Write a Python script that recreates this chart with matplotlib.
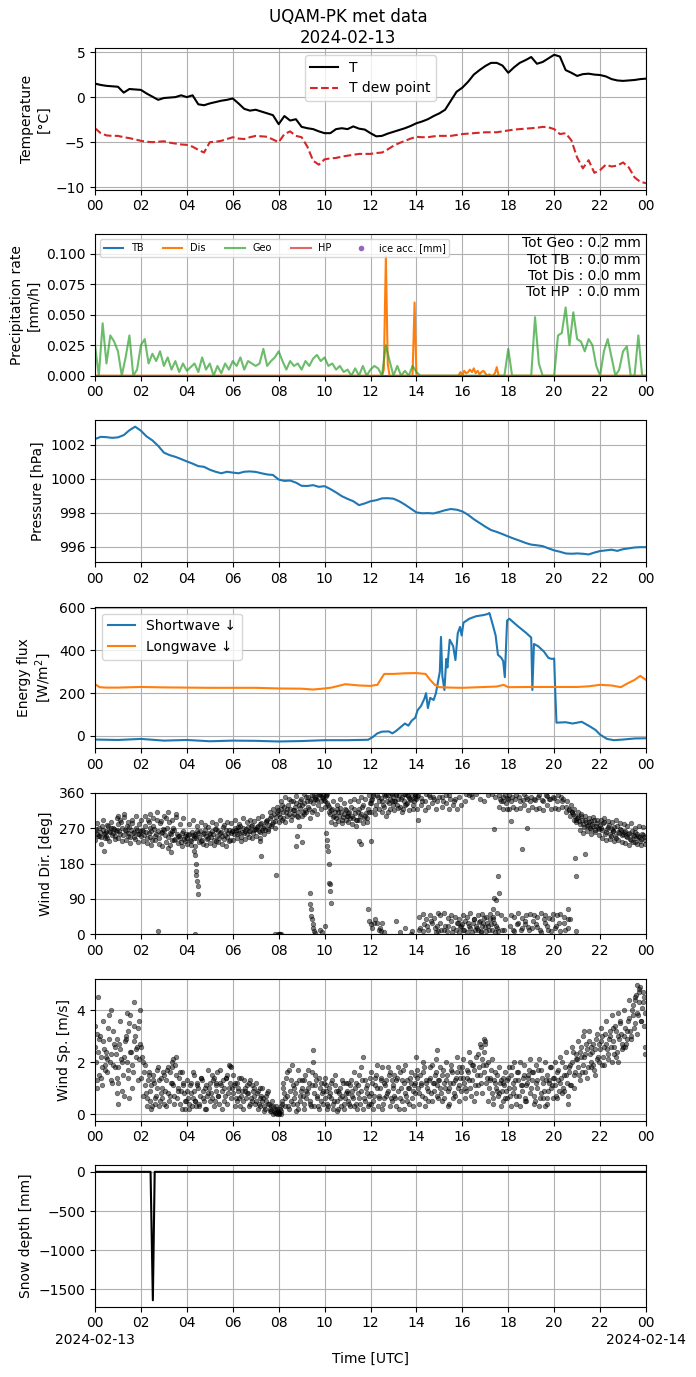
import numpy as np
import matplotlib
matplotlib.use("Agg")
import matplotlib.pyplot as plt

# 15 min grid for the slow series
hours_15 = np.arange(97) * 0.25

temp = [1.5, 1.35, 1.25, 1.2, 1.15, 0.5, 0.9, 0.85,
        0.8, 0.4, 0.05, -0.3, -0.1, -0.05, 0.0, 0.2,
        0.0, 0.2, -0.8, -0.9, -0.7, -0.55, -0.4, -0.3,
        -0.15, -0.7, -1.3, -1.5, -1.4, -1.6, -1.8, -2.0,
        -3.0, -2.1, -2.6, -2.45, -3.3, -3.45, -3.55, -3.8,
        -4.0, -4.0, -3.55, -3.45, -3.55, -3.25, -3.5, -3.6,
        -4.0, -4.35, -4.3, -4.05, -3.85, -3.65, -3.45, -3.2,
        -2.9, -2.7, -2.45, -2.1, -1.8, -1.4, -0.4, 0.6,
        1.05, 1.7, 2.5, 3.0, 3.45, 3.8, 3.8, 3.5,
        2.7, 3.3, 3.8, 4.1, 4.45, 3.7, 3.9, 4.3,
        4.7, 4.5, 3.0, 2.7, 2.35, 2.55, 2.6, 2.5,
        2.45, 2.3, 2.0, 1.85, 1.8, 1.85, 1.9, 2.0,
        2.05]

dew = [-3.45, -4.0, -4.25, -4.3, -4.3, -4.45, -4.55, -4.7,
       -4.85, -4.95, -5.0, -4.95, -4.9, -5.05, -5.15, -5.25,
       -5.3, -5.5, -5.85, -6.15, -5.0, -4.95, -4.85, -4.65,
       -4.45, -4.6, -4.65, -4.45, -4.3, -4.35, -4.4, -4.7,
       -5.0, -4.1, -3.8, -4.3, -4.45, -5.5, -7.05, -7.5,
       -6.9, -6.8, -6.75, -6.6, -6.5, -6.4, -6.3, -6.3,
       -6.3, -6.2, -6.15, -5.8, -5.4, -5.1, -4.85, -4.6,
       -4.4, -4.45, -4.45, -4.35, -4.3, -4.3, -4.3, -4.2,
       -4.1, -4.05, -4.0, -3.95, -3.9, -3.9, -3.9, -3.8,
       -3.7, -3.6, -3.55, -3.5, -3.45, -3.4, -3.3, -3.35,
       -3.55, -4.1, -4.0, -4.8, -6.7, -7.9, -7.0, -8.4,
       -8.1, -7.5, -7.7, -7.6, -7.25, -7.8, -8.9, -9.4,
       -9.55]

pres = [1002.35, 1002.48, 1002.46, 1002.42, 1002.45, 1002.58, 1002.87, 1003.08,
        1002.84, 1002.50, 1002.27, 1001.95, 1001.55, 1001.40, 1001.30, 1001.17,
        1001.03, 1000.90, 1000.75, 1000.71, 1000.54, 1000.42, 1000.33, 1000.42,
        1000.37, 1000.33, 1000.42, 1000.44, 1000.41, 1000.33, 1000.26, 1000.23,
        999.96, 999.88, 999.90, 999.78, 999.59, 999.58, 999.63, 999.53,
        999.57, 999.40, 999.20, 998.98, 998.82, 998.68, 998.45, 998.55,
        998.68, 998.74, 998.85, 998.86, 998.83, 998.68, 998.48, 998.25,
        998.02, 997.97, 997.98, 997.96, 998.05, 998.15, 998.22, 998.18,
        998.08, 997.88, 997.62, 997.40, 997.18, 996.98, 996.87, 996.74,
        996.60, 996.47, 996.35, 996.22, 996.12, 996.08, 996.03, 995.90,
        995.78, 995.70, 995.60, 995.58, 995.60, 995.58, 995.54, 995.65,
        995.74, 995.78, 995.82, 995.75, 995.85, 995.90, 995.95, 995.97,
        995.97]

# precipitation, 10 min for Geo
hours_10 = np.arange(145) / 6.0
geo = [0.025, 0.0, 0.043, 0.01, 0.033, 0.028,
       0.02, 0.0, 0.015, 0.033, 0.0, 0.005,
       0.025, 0.03, 0.01, 0.018, 0.012, 0.02,
       0.008, 0.015, 0.005, 0.012, 0.003, 0.01,
       0.004, 0.007, 0.01, 0.003, 0.015, 0.005,
       0.01, 0.0, 0.008, 0.002, 0.01, 0.005,
       0.012, 0.008, 0.015, 0.005, 0.012, 0.01,
       0.008, 0.01, 0.022, 0.008, 0.012, 0.015,
       0.02, 0.012, 0.005, 0.012, 0.008, 0.01,
       0.005, 0.012, 0.008, 0.014, 0.017, 0.012,
       0.015, 0.008, 0.01, 0.005, 0.008, 0.003,
       0.005, 0.0, 0.006, 0.0, 0.008, 0.0,
       0.005, 0.008, 0.006, 0.0, 0.025, 0.012,
       0.0, 0.008, 0.0, 0.004, 0.0, 0.008,
       0.003, 0.0, 0.0, 0.0, 0.0, 0.0,
       0.0, 0.0, 0.0, 0.0, 0.0, 0.0,
       0.0, 0.0, 0.0, 0.0, 0.0, 0.0,
       0.0, 0.0, 0.0, 0.0, 0.0, 0.0,
       0.022, 0.0, 0.0, 0.0, 0.0, 0.0,
       0.0, 0.048, 0.01, 0.0, 0.0, 0.0,
       0.0, 0.033, 0.035, 0.056, 0.025, 0.052,
       0.03, 0.028, 0.02, 0.03, 0.025, 0.008,
       0.0, 0.02, 0.03, 0.015, 0.0, 0.005,
       0.02, 0.024, 0.0, 0.0, 0.033, 0.0,
       0.0]

dis_hours = [0, 12.5, 12.58, 12.67, 12.75, 12.83, 13.83, 13.92, 14.0,
             15.83, 15.92, 16.0, 16.08, 16.17, 16.25, 16.33, 16.42, 16.5,
             16.58, 16.67, 16.75, 16.83, 16.92, 17.0, 17.08, 17.17, 17.25,
             17.33, 17.42, 17.5, 17.58, 24]
dis_rate = [0, 0, 0.005, 0.098, 0.01, 0, 0, 0.06, 0,
            0, 0.003, 0, 0.004, 0.002, 0.003, 0.005, 0.003, 0.006,
            0.002, 0.004, 0.001, 0.003, 0.004, 0.002, 0, 0.001, 0,
            0, 0.002, 0.007, 0, 0]
tb_rate = [0, 0]
hp_rate = [0, 0]
day_ends = [0, 24]

# radiation
sw_hours = [0, 1, 2, 3, 4, 5, 6, 7, 8, 9, 10, 11, 11.9, 12.1, 12.3, 12.5,
            12.8, 12.95, 13.1, 13.3, 13.5, 13.65, 13.8, 13.95, 14.05, 14.2,
            14.35, 14.42, 14.5, 14.6, 14.75, 14.85, 14.95, 15.02, 15.07,
            15.13, 15.22, 15.3, 15.35, 15.45, 15.6, 15.7, 15.8, 15.9, 15.97,
            16.05, 16.3, 16.6, 16.9, 17.1, 17.18, 17.3, 17.45, 17.55, 17.7,
            17.78, 17.85, 17.95, 18.05, 18.4, 18.8, 19.0, 19.05, 19.12, 19.3,
            19.55, 19.75, 19.9, 20.0, 20.05, 20.1, 20.5, 20.8, 21.2, 21.5,
            21.8, 22.0, 22.3, 22.6, 23.0, 23.5, 24.0]
sw_flux = [-17, -19, -14, -22, -19, -25, -22, -23, -26, -24, -20, -20, -18, -5, 12, 20,
           21, 12, 22, 40, 58, 48, 72, 85, 120, 140,
           175, 200, 130, 178, 168, 200, 260, 300, 463,
           280, 215, 360, 320, 450, 420, 355, 480, 510, 470,
           530, 548, 560, 565, 570, 575, 530, 470, 380, 365,
           350, 275, 540, 548, 515, 480, 460, 215, 430, 420,
           395, 365, 360, 362, 200, 62, 64, 58, 66, 48,
           28, 6, -14, -20, -17, -12, -11]

lw_hours = [0, 0.2, 0.5, 1, 2, 3, 4, 5, 6, 7, 8, 9, 9.5, 10, 10.3, 10.6,
            10.9, 11.2, 11.5, 12.0, 12.3, 12.5, 12.6, 13.0, 13.5, 14.0, 14.4,
            14.6, 14.8, 15.0, 15.5, 16.0, 17.0, 17.5, 17.8, 18.0, 19.0, 20.0,
            21.0, 21.5, 22.0, 22.5, 22.9, 23.2, 23.5, 23.75, 24.0]
lw_flux = [242, 228, 226, 226, 229, 227, 226, 225, 225, 225, 222, 221, 217, 222, 226, 234,
           242, 239, 236, 234, 239, 274, 290, 290, 293, 294, 290,
           262, 239, 228, 226, 225, 229, 231, 239, 228, 229, 229,
           229, 232, 239, 236, 228, 246, 262, 281, 262]

# wind, three interleaved sets of 5 min samples
hours_5 = np.arange(288) / 12.0
hours_5b = hours_5 + 1 / 24.0
hours_5c = hours_5 + 1 / 48.0
wdir = [262, 255, 270, 248, 265, 258, 250, 275, 260, 252, 268, 263,
        280, 255, 270, 298, 262, 250, 272, 265, 258, 243, 266, 254,
        250, 262, 276, 245, 258, 270, 240, 268, 255, 263, 282, 260,
        265, 296, 248, 258, 262, 270, 243, 255, 250, 236, 262, 249,
        246, 255, 238, 252, 250, 245, 258, 262, 240, 258, 250, 244,
        255, 262, 240, 268, 250, 245, 260, 272, 253, 248, 265, 258,
        262, 270, 255, 266, 275, 260, 258, 268, 272, 262, 278, 265,
        268, 275, 260, 282, 270, 265, 290, 278, 300, 285, 270, 310,
        305, 318, 290, 325, 312, 330, 320, 300, 315, 335, 310, 322,
        328, 305, 315, 340, 320, 345, 335, 350, 342, 355, 338, 348,
        340, 352, 330, 305, 318, 300, 295, 310, 322, 290, 305, 315,
        300, 312, 325, 295, 308, 290, 318, 305, 330, 300, 285, 312,
        335, 345, 28, 330, 350, 15, 340, 325, 355, 310, 345, 338,
        350, 340, 330, 355, 345, 320, 358, 335, 348, 342, 330, 352,
        345, 355, 15, 340, 25, 358, 10, 350, 30, 345, 5, 20,
        350, 12, 340, 22, 8, 355, 35, 15, 345, 28, 5, 18,
        25, 10, 358, 30, 15, 5, 40, 20, 12, 35, 8, 28,
        18, 30, 10, 25, 45, 5, 15, 355, 340, 350, 12, 335,
        345, 20, 350, 8, 355, 30, 340, 15, 358, 25, 345, 10,
        350, 35, 342, 18, 355, 5, 338, 28, 352, 12, 345, 40,
        348, 20, 355, 8, 340, 30, 325, 15, 315, 330, 305, 300,
        295, 288, 302, 280, 290, 275, 285, 268, 280, 292, 275, 270,
        278, 265, 285, 260, 272, 255, 268, 262, 250, 275, 258, 265,
        255, 262, 248, 258, 240, 252, 260, 245, 250, 238, 255, 248]
wdir_b = [268, 250, 260, 275, 255, 264, 245, 262, 271, 258, 250, 266,
          262, 285, 252, 266, 275, 258, 248, 282, 260, 270, 256, 262,
          266, 252, 259, 290, 248, 262, 275, 250, 292, 246, 258, 268,
          252, 270, 285, 255, 240, 265, 298, 250, 245, 258, 242, 255,
          252, 240, 260, 245, 256, 262, 248, 238, 255, 265, 242, 258,
          248, 255, 268, 238, 262, 257, 250, 243, 266, 258, 240, 262,
          255, 265, 272, 258, 248, 270, 264, 255, 262, 275, 258, 268,
          272, 262, 280, 265, 275, 285, 268, 295, 280, 305, 298, 315,
          298, 330, 310, 285, 320, 305, 340, 315, 325, 300, 328, 345,
          312, 335, 350, 325, 338, 312, 355, 345, 330, 358, 350, 342,
          355, 335, 325, 315, 298, 310, 320, 300, 312, 298, 318, 300,
          308, 295, 302, 318, 290, 312, 300, 325, 295, 308, 320, 335,
          342, 352, 320, 30, 338, 348, 330, 352, 340, 335, 360, 330,
          338, 355, 345, 325, 350, 340, 332, 352, 345, 355, 340, 348,
          352, 12, 348, 8, 340, 20, 355, 35, 350, 15, 340, 8,
          28, 350, 10, 355, 20, 345, 5, 340, 12, 30, 350, 22,
          12, 35, 5, 20, 358, 28, 10, 15, 32, 5, 22, 42,
          8, 22, 38, 12, 30, 20, 8, 345, 12, 340, 355, 348,
          355, 340, 12, 345, 25, 350, 10, 342, 35, 350, 18, 340,
          15, 345, 25, 350, 10, 342, 40, 355, 22, 345, 8, 350,
          15, 340, 28, 350, 345, 12, 338, 320, 40, 310, 318, 292,
          298, 280, 292, 272, 285, 278, 270, 288, 276, 265, 282, 268,
          270, 282, 255, 268, 278, 250, 262, 272, 245, 260, 268, 252,
          260, 250, 255, 242, 262, 250, 236, 256, 248, 242, 252, 240]
wdir_c = [240, 282, 250, 230, 290, 245, 278, 238, 285, 270, 242, 295,
          245, 292, 238, 305, 240, 286, 232, 290, 248, 300, 236, 280,
          290, 238, 300, 232, 285, 228, 295, 240, 310, 230, 288, 225,
          300, 235, 312, 228, 290, 240, 305, 232, 280, 225, 295, 238,
          230, 280, 228, 290, 225, 275, 235, 285, 230, 278, 226, 272,
          232, 285, 228, 280, 236, 290, 230, 278, 225, 286, 238, 282,
          240, 290, 245, 280, 238, 295, 242, 285, 248, 290, 244, 288,
          250, 295, 245, 300, 255, 288, 262, 310, 275, 318, 288, 325,
          285, 340, 295, 350, 300, 345, 292, 338, 305, 352, 298, 340,
          300, 358, 310, 350, 296, 355, 315, 345, 305, 358, 320, 352,
          325, 358, 310, 285, 340, 280, 330, 288, 345, 282, 335, 290,
          285, 340, 280, 345, 275, 338, 290, 350, 282, 345, 295, 355,
          310, 358, 305, 355, 318, 8, 312, 358, 300, 355, 320, 358,
          315, 358, 322, 5, 310, 358, 328, 355, 315, 2, 320, 358,
          320, 45, 330, 52, 315, 40, 325, 48, 335, 42, 318, 55,
          48, 325, 55, 335, 42, 320, 50, 330, 45, 318, 38, 328,
          50, 340, 45, 355, 55, 350, 38, 358, 48, 345, 52, 340,
          45, 355, 52, 358, 40, 350, 55, 325, 48, 320, 40, 318,
          320, 50, 325, 45, 318, 55, 322, 42, 328, 48, 315, 52,
          325, 50, 318, 45, 322, 55, 315, 48, 328, 42, 320, 52,
          322, 48, 318, 52, 325, 45, 310, 40, 300, 310, 290, 285,
          310, 265, 305, 258, 300, 262, 295, 255, 298, 260, 290, 252,
          290, 245, 295, 240, 288, 242, 285, 238, 290, 240, 282, 236,
          280, 232, 275, 228, 282, 235, 270, 230, 276, 226, 272, 230]

# odd samples in between the others
wdir_x_hours = [0.4, 1.0, 2.4, 2.75, 3.2, 3.3, 4.35, 4.33, 4.37, 4.38, 4.4, 4.42,
                4.45, 4.47, 4.5, 7.25, 7.2, 7.9, 7.85, 7.95, 8.0, 8.05, 8.1,
                8.75, 8.8, 8.9, 9.0, 9.35, 9.38, 9.4, 9.42, 9.45, 9.48, 9.5,
                9.55, 9.6, 9.8, 9.9, 10.0, 10.05, 10.1, 10.12, 10.15, 10.18,
                10.2, 10.22, 10.25, 10.3, 11.5, 11.6, 11.9, 11.95, 12.0, 12.05,
                12.0, 12.2, 12.35, 12.5, 12.6, 13.1, 13.5, 13.8, 14.05, 17.4,
                17.55, 17.6, 17.4, 17.45, 17.35, 18.1, 18.6, 18.8, 20.6, 20.95,
                20.9, 20.93, 21.35]
wdir_x_deg = [213, 300, 305, 8, 220, 210, 0, 212, 203, 178, 161, 150,
              135, 123, 102, 199, 237, 150, 0, 1, 2, 0, 1,
              225, 250, 275, 235, 106, 76, 64, 47, 38, 25, 17,
              8, 3, 12, 5, 20, 258, 241, 225, 212, 178,
              131, 127, 110, 80, 237, 229, 64, 34, 25, 17,
              237, 40, 10, 30, 5, 35, 15, 8, 292, 267,
              148, 106, 93, 88, 64, 288, 216, 271, 64, 8,
              195, 148, 205]

wspd = [2.6, 3.1, 1.5, 2.2, 2.8, 1.9, 2.4, 3.3, 2.0, 1.2, 2.7, 2.3,
        1.8, 2.5, 0.9, 2.2, 2.9, 1.7, 3.5, 2.4, 1.6, 3.0, 2.6, 2.1,
        1.4, 2.0, 1.1, 0.6, 1.5, 0.9, 0.3, 1.2, 0.7, 1.8, 0.5, 1.0,
        0.4, 1.3, 0.8, 1.6, 2.0, 1.1, 1.9, 0.6, 1.4, 0.9, 1.2, 0.2,
        0.9, 0.4, 1.2, 0.6, 1.5, 0.3, 1.0, 0.7, 1.3, 0.5, 1.1, 0.8,
        1.2, 0.6, 1.4, 0.9, 1.6, 0.4, 1.1, 1.3, 0.7, 1.5, 1.0, 1.8,
        0.8, 1.2, 0.5, 1.0, 0.3, 0.9, 1.3, 0.6, 0.8, 0.4, 1.1, 0.7,
        0.5, 0.9, 0.3, 0.7, 0.6, 0.2, 0.8, 0.4, 0.1, 0.3, 0.05, 0.2,
        0.0, 0.1, 0.4, 0.8, 1.4, 0.3, 0.9, 1.9, 0.6, 1.2, 0.2, 0.7,
        1.0, 0.4, 1.5, 0.8, 1.2, 0.3, 2.0, 1.1, 0.7, 1.4, 0.5, 0.9,
        0.6, 1.1, 0.3, 0.8, 1.3, 0.5, 0.9, 0.2, 1.0, 0.7, 0.4, 1.2,
        0.8, 0.4, 1.3, 0.6, 1.0, 0.2, 1.5, 0.9, 2.2, 0.5, 1.1, 0.7,
        0.4, 1.2, 0.7, 1.5, 0.3, 1.0, 1.8, 0.6, 1.3, 0.9, 1.6, 0.5,
        1.1, 0.6, 1.4, 0.2, 1.0, 1.7, 0.8, 1.3, 0.4, 1.2, 0.9, 1.5,
        2.2, 1.0, 1.5, 0.7, 1.8, 1.2, 0.5, 1.4, 1.9, 0.9, 1.6, 1.1,
        1.3, 0.8, 1.7, 1.0, 1.5, 0.4, 1.9, 1.2, 0.7, 1.6, 1.1, 1.4,
        1.8, 1.2, 0.9, 1.6, 2.0, 1.3, 1.7, 0.8, 2.3, 1.5, 2.6, 1.9,
        2.8, 1.4, 1.0, 1.7, 0.6, 1.2, 1.5, 0.8, 1.3, 0.5, 1.1, 0.9,
        1.4, 0.7, 1.8, 1.0, 0.4, 1.3, 2.0, 0.9, 1.5, 0.6, 1.2, 1.7,
        1.0, 1.6, 0.5, 1.3, 2.1, 0.8, 1.2, 0.3, 1.5, 0.9, 1.8, 1.1,
        1.4, 0.7, 1.7, 1.2, 2.0, 0.9, 1.5, 0.4, 1.8, 1.1, 2.4, 1.6,
        2.1, 1.5, 2.6, 1.9, 2.3, 1.4, 2.8, 2.0, 2.4, 1.7, 2.9, 2.2,
        2.5, 3.0, 1.9, 2.7, 2.3, 3.2, 2.0, 2.8, 3.4, 2.4, 2.9, 3.1,
        2.6, 3.3, 2.9, 3.7, 3.0, 4.2, 3.5, 4.6, 3.8, 4.9, 4.1, 3.4]
wspd_b = [2.0, 2.4, 3.0, 1.8, 2.5, 2.2, 1.6, 2.9, 2.3, 1.9, 2.6, 1.4,
          2.7, 2.1, 1.5, 2.8, 2.0, 3.2, 2.4, 1.9, 2.8, 2.2, 3.3, 2.7,
          2.2, 1.6, 0.8, 1.3, 0.5, 1.1, 1.5, 0.4, 1.0, 1.3, 0.8, 1.6,
          0.9, 1.7, 0.5, 1.2, 1.8, 0.7, 1.5, 1.0, 0.4, 1.6, 0.8, 0.5,
          0.6, 1.1, 0.3, 0.9, 0.5, 1.2, 0.4, 1.4, 0.9, 0.2, 0.7, 1.0,
          0.8, 1.3, 0.5, 1.1, 0.7, 1.2, 0.9, 0.5, 1.4, 0.8, 1.2, 1.0,
          1.1, 0.6, 0.9, 1.4, 0.7, 0.5, 1.0, 0.8, 1.2, 0.6, 0.9, 0.4,
          0.8, 0.4, 1.0, 0.5, 0.3, 0.7, 0.4, 0.2, 0.5, 0.1, 0.3, 0.1,
          0.2, 0.5, 1.0, 0.3, 0.7, 1.7, 0.5, 1.1, 0.8, 0.4, 1.3, 0.9,
          0.7, 1.3, 0.6, 1.0, 0.4, 1.6, 0.8, 1.3, 0.3, 1.0, 0.8, 1.2,
          0.9, 0.4, 1.0, 0.6, 0.2, 1.1, 0.5, 0.8, 0.3, 1.2, 0.6, 0.9,
          0.5, 1.1, 0.7, 0.3, 1.2, 0.8, 0.4, 1.3, 0.6, 1.0, 0.3, 1.4,
          0.8, 0.5, 1.4, 1.0, 0.7, 1.3, 0.4, 1.1, 0.8, 1.5, 0.6, 1.0,
          0.7, 1.3, 0.9, 1.6, 0.5, 1.2, 0.7, 1.0, 1.4, 0.6, 1.1, 0.8,
          1.4, 0.8, 1.2, 1.6, 0.6, 1.0, 1.3, 0.8, 1.2, 1.5, 0.7, 1.3,
          1.0, 1.5, 0.6, 1.3, 0.9, 1.2, 1.6, 0.8, 1.4, 1.0, 1.8, 0.9,
          1.4, 1.0, 1.7, 1.3, 0.7, 1.9, 1.1, 1.5, 1.8, 1.2, 2.1, 1.6,
          1.2, 2.0, 1.4, 0.8, 1.3, 1.0, 0.7, 1.2, 0.9, 1.4, 0.6, 1.3,
          1.0, 1.5, 0.8, 1.3, 1.6, 0.7, 1.1, 1.4, 0.5, 1.1, 1.5, 0.8,
          1.3, 0.7, 1.2, 1.7, 0.6, 1.4, 0.9, 1.3, 0.6, 1.2, 1.0, 1.4,
          1.1, 1.6, 0.9, 1.4, 1.0, 1.8, 1.2, 1.6, 1.1, 2.0, 1.5, 2.3,
          1.8, 2.4, 1.6, 2.2, 2.7, 1.8, 2.3, 2.6, 1.9, 2.5, 2.1, 2.7,
          2.8, 2.2, 3.1, 2.5, 2.9, 2.6, 3.3, 2.6, 2.2, 3.0, 3.5, 2.7,
          3.0, 2.7, 3.6, 3.2, 4.0, 3.3, 4.4, 3.9, 4.3, 3.6, 4.7, 3.9]
wspd_c = [3.4, 1.0, 2.9, 1.4, 3.6, 1.7, 2.1, 3.8, 1.3, 3.2, 1.8, 2.9,
          1.2, 3.6, 2.0, 0.7, 3.0, 1.4, 3.8, 1.0, 3.4, 2.5, 1.3, 3.6,
          2.6, 0.7, 1.9, 0.3, 1.6, 0.2, 1.3, 0.6, 1.7, 0.3, 1.4, 0.6,
          1.5, 0.3, 1.8, 0.7, 1.2, 0.4, 2.2, 0.9, 1.6, 0.2, 1.1, 0.5,
          1.3, 0.2, 0.8, 1.6, 0.5, 1.1, 0.3, 1.4, 0.6, 1.0, 0.2, 1.7,
          0.5, 1.5, 0.3, 1.2, 0.7, 1.7, 0.2, 1.0, 1.4, 0.4, 1.9, 0.6,
          1.5, 0.3, 1.2, 0.6, 1.4, 0.2, 0.9, 1.1, 0.3, 1.3, 0.5, 1.0,
          1.2, 0.2, 0.6, 1.0, 0.1, 0.5, 0.9, 0.1, 0.3, 0.0, 0.2, 0.0,
          0.05, 0.3, 1.2, 0.6, 1.6, 0.2, 1.3, 0.4, 1.0, 0.1, 1.7, 0.5,
          1.3, 0.2, 0.9, 1.7, 0.5, 1.1, 0.3, 1.5, 0.6, 0.2, 1.2, 0.4,
          1.4, 0.2, 0.7, 1.2, 0.4, 1.5, 0.1, 0.9, 0.6, 1.3, 0.2, 0.8,
          1.2, 0.3, 0.9, 1.6, 0.4, 1.1, 0.6, 1.8, 0.2, 1.3, 0.8, 0.4,
          1.6, 0.2, 1.1, 1.9, 0.6, 1.4, 0.2, 1.2, 0.7, 1.8, 0.3, 1.3,
          1.5, 0.3, 1.8, 0.6, 1.3, 0.2, 1.9, 0.5, 1.0, 1.6, 0.3, 1.2,
          1.7, 0.4, 1.1, 2.0, 0.3, 1.3, 0.9, 1.8, 0.5, 1.2, 2.1, 0.6,
          1.8, 0.5, 1.2, 2.0, 0.3, 1.0, 1.7, 0.6, 1.3, 2.2, 0.5, 1.6,
          2.1, 0.6, 1.4, 2.4, 1.0, 1.9, 0.5, 2.2, 1.1, 2.7, 0.8, 2.4,
          1.9, 0.5, 1.3, 2.1, 0.4, 1.6, 0.9, 1.8, 0.3, 1.2, 1.6, 0.6,
          1.8, 0.3, 1.2, 2.0, 0.7, 1.6, 0.3, 1.1, 1.9, 0.5, 1.4, 2.1,
          1.6, 0.4, 1.9, 1.0, 0.3, 1.7, 0.6, 2.0, 0.4, 1.3, 1.8, 0.6,
          2.0, 0.6, 1.3, 2.2, 0.8, 1.5, 2.4, 0.7, 1.9, 2.6, 1.0, 2.1,
          2.8, 1.3, 2.2, 3.0, 1.6, 2.5, 3.2, 1.8, 2.7, 1.5, 3.1, 2.0,
          3.3, 1.9, 2.6, 3.6, 2.1, 3.0, 3.8, 2.3, 3.2, 2.0, 3.6, 2.5,
          4.0, 2.6, 3.2, 4.4, 2.9, 3.8, 4.5, 3.1, 4.8, 3.6, 4.3, 2.6]

wspd_x_hours = [0.15, 0.7, 1.7, 1.4, 1.95, 0.1, 0.3, 0.95, 1.0, 1.5, 3.4, 5.9,
                7.9, 8.0, 8.1, 7.95, 9.5, 14.9, 16.95, 17.0, 23.6, 23.7, 23.95,
                23.9, 22.8, 21.3]
wspd_x_ms = [4.5, 4.0, 4.3, 3.9, 4.0, 1.3, 1.1, 0.8, 0.4, 0.6, 2.1, 1.85,
             0.02, 0.05, 0.0, 0.08, 2.45, 2.45, 2.9, 2.7, 4.95, 4.7, 2.3,
             4.5, 3.9, 3.2]

snow_hours = [0, 2.42, 2.52, 2.6, 24]
snow_depth = [0, 0, -1640, 0, 0]


fig = plt.figure(figsize=(6.96, 13.77), dpi=100)
fig.suptitle("UQAM-PK met data\n2024-02-13", y=1 - 8 / 1377, va="top", fontsize=12)


def add_panel(k):
    top = 48 + k * 186.2
    h = 141.5
    ax = fig.add_axes([95 / 696, 1 - (top + h) / 1377, 551 / 696, h / 1377])
    ax.set_xlim(0, 24)
    ax.set_xticks(np.arange(0, 25, 2))
    ax.set_xticklabels(["%02d" % (hh % 24) for hh in range(0, 25, 2)])
    ax.grid(True)
    return ax


def dots(ax, x, y):
    ax.plot(x, y, "o", color="black", alpha=0.5, ms=3.3, mew=0.5)


#Temperature
ax = add_panel(0)
ax.plot(hours_15, temp, color="black", label="T")
ax.plot(hours_15, dew, color="#d62728", ls="--", label="T dew point")
ax.set_ylim(-10.25, 5.45)
ax.set_yticks([-10, -5, 0, 5])
ax.set_ylabel("Temperature\n[°C]")
ax.legend(loc="upper center")

#Precipitation
ax = add_panel(1)
ax.plot(day_ends, tb_rate, color="tab:blue", label="TB")
ax.plot(dis_hours, dis_rate, color="tab:orange", label="Dis")
ax.plot(hours_10, geo, color="tab:green", alpha=0.7, label="Geo")
ax.plot(day_ends, hp_rate, color="tab:red", alpha=0.7, label="HP")
ax.plot([], [], "o", color="tab:purple", ms=3, label="ice acc. [mm]")
ax.set_ylim(0, 0.116)
ax.set_yticks([0, 0.025, 0.05, 0.075, 0.1])
ax.set_ylabel("Precipitation rate\n[mm/h]")
ax.legend(loc="upper left", ncol=5, fontsize=7)
ax.text(0.99, 0.985, "Tot Geo : 0.2 mm\nTot TB  : 0.0 mm\nTot Dis : 0.0 mm\nTot HP  : 0.0 mm",
        transform=ax.transAxes, ha="right", va="top", fontsize=10)

#Pressure
ax = add_panel(2)
ax.plot(hours_15, pres, color="tab:blue")
ax.set_ylim(995.1, 1003.45)
ax.set_yticks([996, 998, 1000, 1002])
ax.set_ylabel("Pressure [hPa]")

#Radiation
ax = add_panel(3)
ax.plot(sw_hours, sw_flux, color="tab:blue", label="Shortwave ↓")
ax.plot(lw_hours, lw_flux, color="tab:orange", label="Longwave ↓")
ax.set_ylim(-57, 605)
ax.set_yticks([0, 200, 400, 600])
ax.set_ylabel("Energy flux\n[W/m$^2$]")
ax.legend(loc="upper left")

#Wind direction
ax = add_panel(4)
dots(ax, hours_5, wdir)
dots(ax, hours_5b, wdir_b)
dots(ax, hours_5c, wdir_c)
dots(ax, wdir_x_hours, wdir_x_deg)
ax.set_ylim(0, 360)
ax.set_yticks([0, 90, 180, 270, 360])
ax.set_ylabel("Wind Dir. [deg]")

#Wind speed
ax = add_panel(5)
dots(ax, hours_5, wspd)
dots(ax, hours_5b, wspd_b)
dots(ax, hours_5c, wspd_c)
dots(ax, wspd_x_hours, wspd_x_ms)
ax.set_ylim(-0.25, 5.2)
ax.set_yticks([0, 2, 4])
ax.set_ylabel("Wind Sp. [m/s]")

#Snow depth
ax = add_panel(6)
ax.plot(snow_hours, snow_depth, color="black")
ax.set_ylim(-1722, 85)
ax.set_yticks([-1500, -1000, -500, 0])
ax.set_ylabel("Snow depth [mm]")
labels = ["%02d" % (hh % 24) for hh in range(0, 25, 2)]
labels[0] = "00\n2024-02-13"
labels[-1] = "00\n2024-02-14"
ax.set_xticklabels(labels)
ax.set_xlabel("Time [UTC]")

fig.savefig("out.png", dpi=100)
